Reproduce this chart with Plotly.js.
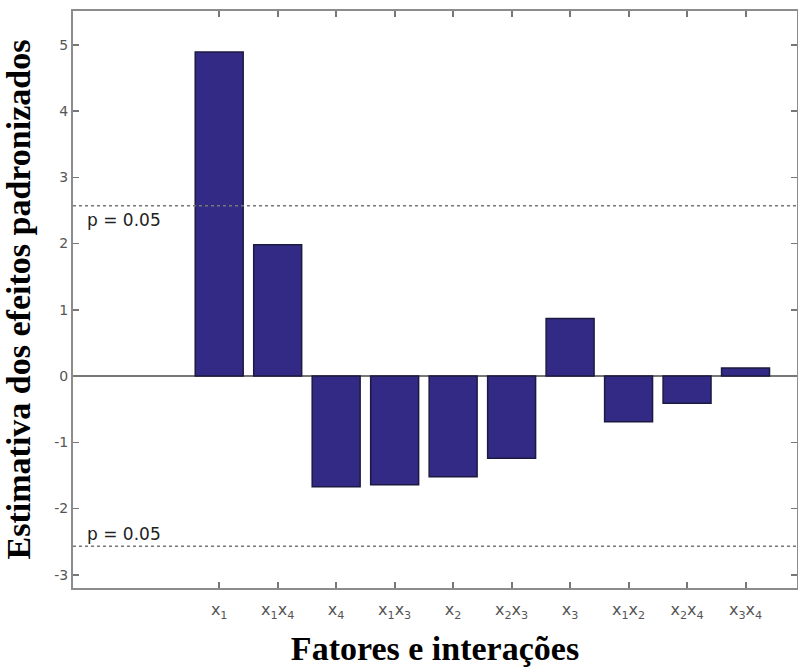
<!DOCTYPE html>
<html>
<head>
<meta charset="utf-8">
<script src="https://cdn.plot.ly/plotly-3.0.1.min.js"></script>
<style>html,body{margin:0;padding:0;background:#fff;}#chart{width:798px;height:670px;}</style>
</head>
<body>
<div id="chart"></div>
<script>
const categories = ['x1', 'x1x4', 'x4', 'x1x3', 'x2', 'x2x3', 'x3', 'x1x2', 'x2x4', 'x3x4'];
const tickLabels = ['x<sub>1</sub>', 'x<sub>1</sub>x<sub>4</sub>', 'x<sub>4</sub>', 'x<sub>1</sub>x<sub>3</sub>', 'x<sub>2</sub>', 'x<sub>2</sub>x<sub>3</sub>', 'x<sub>3</sub>', 'x<sub>1</sub>x<sub>2</sub>', 'x<sub>2</sub>x<sub>4</sub>', 'x<sub>3</sub>x<sub>4</sub>'];
const effects = [4.89, 1.98, -1.67, -1.64, -1.52, -1.24, 0.87, -0.69, -0.41, 0.12];
const yTickVals = [-3, -2, -1, 0, 1, 2, 3, 4, 5];
const yTickText = ['-3', '-2', '-1', '0', '1', '2', '3', '4', '5'];
const pCrit = 2.57;
const pLabel = 'p = 0.05';

const trace = {
  type: 'bar',
  x: categories,
  y: effects,
  marker: {color: '#332a85', line: {color: '#1c1a40', width: 1.5}},
  hoverinfo: 'x+y'
};

const titleFont = {family: 'Liberation Serif, Times New Roman, serif', size: 34, color: '#000', weight: 'bold'};

const layout = {
  width: 798, height: 670,
  margin: {l: 73, r: 1, t: 11, b: 82},
  paper_bgcolor: '#fff', plot_bgcolor: '#fff',
  showlegend: false,
  bargap: 0.18,
  font: {family: 'DejaVu Sans, Arial, sans-serif', color: '#555'},
  xaxis: {
    type: 'category',
    range: [-2.5, 9.88],
    tickmode: 'array', tickvals: categories, ticktext: tickLabels,
    ticks: 'inside', ticklen: 6, tickwidth: 2, tickcolor: '#777',
    ticklabelstandoff: 6,
    showline: true, linecolor: '#8c8c8c', linewidth: 2, mirror: 'allticks',
    showgrid: false, zeroline: false,
    tickfont: {size: 16, color: '#555'},
    title: {text: 'Fatores e interações', font: titleFont, standoff: 16}
  },
  yaxis: {
    range: [-3.2, 5.51],
    tickmode: 'array', tickvals: yTickVals, ticktext: yTickText,
    ticks: 'inside', ticklen: 6, tickwidth: 1.5, tickcolor: '#777',
    showline: true, linecolor: '#8c8c8c', linewidth: 2, mirror: 'allticks',
    showgrid: false,
    zeroline: true, zerolinecolor: '#777', zerolinewidth: 1.5,
    tickfont: {size: 14, color: '#555'},
    title: {text: 'Estimativa dos efeitos padronizados', font: titleFont, standoff: 14}
  },
  shapes: [pCrit, -pCrit].map(v => ({
    type: 'line', xref: 'paper', yref: 'y', x0: 0, x1: 1, y0: v, y1: v,
    line: {color: '#777', width: 1.5, dash: 'dot'}
  })),
  annotations: [
    {xref: 'paper', yref: 'y', x: 0, y: pCrit, xanchor: 'left', yanchor: 'top', xshift: 12, yshift: -2, text: pLabel, showarrow: false, font: {size: 17, color: '#222'}},
    {xref: 'paper', yref: 'y', x: 0, y: -pCrit, xanchor: 'left', yanchor: 'bottom', xshift: 12, yshift: 0, text: pLabel, showarrow: false, font: {size: 17, color: '#222'}}
  ]
};

Plotly.newPlot('chart', [trace], layout, {staticPlot: true, displayModeBar: false});
</script>
</body>
</html>
